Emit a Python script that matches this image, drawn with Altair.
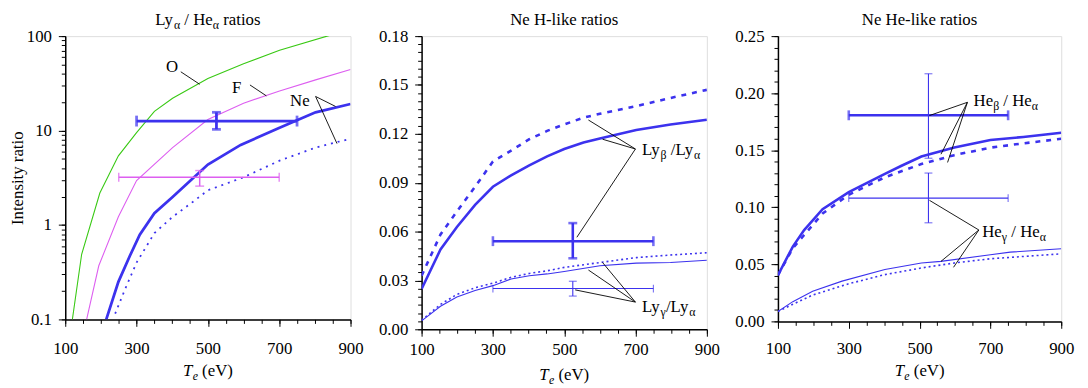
import altair as alt
import pandas as pd

FONT = "Liberation Serif"
FS = 17
SUB = 12
BLUE = "#3c32ee"
MAG = "#dd5ff0"
GREEN = "#39c914"

# ---------------- data: panel 1 (Ly_alpha / He_alpha) ----------------
T_O = [120, 146, 197, 249, 300, 350, 401, 500, 600, 701, 834, 900]
V_O = [0.1, 0.49, 2.18, 5.4, 9.5, 16, 22, 35.6, 51, 71, 100, 115]
T_F = [160, 194, 249, 300, 401, 500, 600, 701, 802, 900]
V_F = [0.1, 0.37, 1.22, 2.96, 6.6, 13.1, 19.5, 26.3, 34.4, 44.4]
T_NE = [215, 249, 281, 309, 350, 401, 452, 500, 592, 701, 802, 900]
V_NE = [0.1, 0.25, 0.47, 0.79, 1.33, 1.98, 2.97, 4.36, 7.05, 10.7, 15.6, 19.1]
T_NE_DOT = [240, 268, 300, 350, 401, 452, 500, 600, 701, 802, 900]
V_NE_DOT = [0.115, 0.21, 0.4, 0.82, 1.22, 1.69, 2.33, 3.2, 4.8, 6.6, 8.2]
# error bars: xc, xlo, xhi, yc, ylo, yhi
EB_NE = [524, 300, 750, 12.6, 10.3, 15.6]
EB_F = [477, 250, 700, 3.2, 2.58, 3.77]

# ---------------- data: panel 2 (Ne H-like) ----------------
T_LYB = [100, 153, 199, 250, 300, 351, 402, 452, 500, 554, 600, 702, 798, 900]
V_LYB = [0.0248, 0.049, 0.0628, 0.0764, 0.0875, 0.0945, 0.1006, 0.1062, 0.1107,
         0.1147, 0.1172, 0.1224, 0.1258, 0.1287]
V_LYB_DASH = [0.0329, 0.0582, 0.0723, 0.0875, 0.103, 0.1097, 0.1167, 0.1218, 0.1258,
              0.1299, 0.1323, 0.137, 0.142, 0.147]
T_LYG = [100, 153, 199, 250, 300, 351, 402, 452, 500, 600, 702, 798, 900]
V_LYG = [0.0052, 0.0141, 0.0198, 0.0238, 0.0268, 0.0309, 0.0329, 0.034, 0.0355,
         0.039, 0.0406, 0.041, 0.0424]
V_LYG_DOT = [0.0056, 0.0153, 0.0214, 0.0255, 0.0283, 0.0319, 0.0343, 0.0359, 0.038,
             0.041, 0.044, 0.0456, 0.047]
EB_LYB = [524, 300, 750, 0.0541, 0.0436, 0.0652]
EB_LYG = [524, 300, 750, 0.025, 0.0204, 0.0295]

# ---------------- data: panel 3 (Ne He-like) ----------------
T_HEB = [100, 142, 174, 226, 300, 402, 449, 505, 598, 700, 793, 900]
V_HEB = [0.0405, 0.0656, 0.080, 0.0983, 0.1133, 0.1292, 0.1364, 0.1445, 0.1523,
         0.159, 0.1616, 0.1653]
T_HEB_DASH = [100, 142, 174, 226, 300, 402, 505, 598, 700, 793, 900]
V_HEB_DASH = [0.0405, 0.0642, 0.0757, 0.0945, 0.111, 0.1263, 0.1379, 0.1457,
              0.1523, 0.156, 0.160]
T_HEG = [100, 142, 198, 281, 402, 505, 560, 700, 756, 900]
V_HEG = [0.0087, 0.0173, 0.0265, 0.0353, 0.0455, 0.0512, 0.0526, 0.0584, 0.0607, 0.0636]
T_HEG_DOT = [100, 142, 198, 300, 402, 505, 598, 700, 900]
V_HEG_DOT = [0.0087, 0.015, 0.0231, 0.033, 0.041, 0.0468, 0.0512, 0.0549, 0.0592]
EB_HEB = [525, 300, 750, 0.1806, 0.143, 0.217]
EB_HEG = [525, 300, 750, 0.108, 0.0864, 0.130]

# tick values
X_MINOR_T = list(range(100, 901, 50))
X_MAJOR_T = [100, 300, 500, 700, 900]
Y1_MAJOR_T = [0.1, 1, 10, 100]
Y1_MINOR_T = [round(d * k, 3) for d in [0.1, 1, 10] for k in range(1, 10)] + [100]
Y2_MAJOR_T = [0, 0.03, 0.06, 0.09, 0.12, 0.15, 0.18]
Y2_MINOR_T = [round(i * 0.005, 3) for i in range(37)]
Y3_MAJOR_T = [0, 0.05, 0.10, 0.15, 0.20, 0.25]
Y3_MINOR_T = [round(i * 0.01, 2) for i in range(26)]

# ---------------- helpers ----------------
ONE = pd.DataFrame({"k": [0]})
WID = {"L": 0.611, "y": 0.5, "H": 0.722, "e": 0.444, " ": 0.25, "/": 0.278,
       "r": 0.333, "a": 0.444, "t": 0.278, "i": 0.278, "o": 0.5, "s": 0.389,
       "(": 0.333, ")": 0.333, "V": 0.722, "T": 0.58, "N": 0.722, "-": 0.333,
       "l": 0.278, "k": 0.5, "α": 0.53, "β": 0.5, "γ": 0.45, "O": 0.722, "F": 0.556}


def twidth(s, size):
    return sum(WID.get(c, 0.5) for c in s) * size


def rich(segs, x_enc, y_enc, align="left", base_dy=0, size=FS):
    widths = [twidth(t, SUB if sub else size) for t, sub, it in segs]
    off = -sum(widths) / 2 if align == "center" else 0
    layers = []
    for (t, sub, it), w in zip(segs, widths):
        fsz = SUB if sub else size
        lead = len(t) - len(t.lstrip(" "))
        core = t.strip(" ")
        kw = dict(text=core, font=FONT, fontSize=fsz, align="left",
                  baseline="alphabetic", dx=off + lead * 0.25 * fsz,
                  dy=base_dy + (4 if sub else 0), color="black")
        if it:
            kw["fontStyle"] = "italic"
        layers.append(alt.Chart(ONE).mark_text(**kw).encode(x=x_enc, y=y_enc))
        off += w
    return layers


XS = alt.Scale(domain=[100, 900], nice=False, zero=False)

AX = dict(labelFont=FONT, labelFontSize=FS, labelColor="black",
          domainColor="black", domainWidth=1.5, tickColor="black",
          tickWidth=1, grid=False, labelOverlap=False, labelFlush=False)

X_MINOR = alt.Axis(values=X_MINOR_T, labels=False, tickSize=4, title=None,
                   orient="bottom", domain=True, **AX)


def x_major(pad):
    return alt.Axis(values=X_MAJOR_T, tickSize=7, labelPadding=pad, title=None,
                    orient="bottom", domain=False, **AX)


def line(T, V, color, width, ys, dash=None, xaxis=None, yaxis=None, opacity=1):
    df = pd.DataFrame({"T": T, "v": V})
    kw = dict(color=color, strokeWidth=width, clip=True, opacity=opacity)
    if dash:
        kw["strokeDash"] = dash
    return alt.Chart(df).mark_line(**kw).encode(
        x=alt.X("T:Q", scale=XS, axis=xaxis),
        y=alt.Y("v:Q", scale=ys, axis=yaxis))


def errbar(eb, color, ys, wh, wv, caph, capv):
    xc, xlo, xhi, yc, ylo, yhi = eb
    h = pd.DataFrame({"x": [xlo], "x2": [xhi], "y": [yc]})
    v = pd.DataFrame({"x": [xc], "y": [ylo], "y2": [yhi]})
    ends = pd.DataFrame({"x": [xlo, xhi], "y": [yc, yc]})
    tops = pd.DataFrame({"x": [xc, xc], "y": [ylo, yhi]})
    X = alt.X("x:Q", scale=XS, axis=None)
    Y = alt.Y("y:Q", scale=ys, axis=None)
    return [
        alt.Chart(h).mark_rule(color=color, strokeWidth=wh).encode(x=X, x2="x2:Q", y=Y),
        alt.Chart(v).mark_rule(color=color, strokeWidth=wv).encode(x=X, y=Y, y2="y2:Q"),
        alt.Chart(ends).mark_tick(color=color, orient="vertical", size=caph, thickness=wh).encode(x=X, y=Y),
        alt.Chart(tops).mark_tick(color=color, orient="horizontal", size=capv, thickness=wv).encode(x=X, y=Y),
    ]


def leaders(segs, ys):
    df = pd.DataFrame(segs, columns=["x", "y", "x2", "y2"])
    return alt.Chart(df).mark_rule(color="black", strokeWidth=0.9).encode(
        x=alt.X("x:Q", scale=XS, axis=None), y=alt.Y("y:Q", scale=ys, axis=None),
        x2="x2:Q", y2="y2:Q")


def dlabel(segs, T, v, ys, align="left"):
    return rich(segs, alt.XDatum(T, type="quantitative", scale=XS, axis=None),
                alt.YDatum(v, type="quantitative", scale=ys, axis=None),
                align=align, base_dy=6)


def xtitle(w, base):
    return rich([("T", False, True), ("e", True, True), (" (eV)", False, False)],
                alt.value(w / 2), alt.value(base), align="center")


def ptitle(segs, w):
    return rich(segs, alt.value(w / 2), alt.value(-11), align="center")


def yaxes(minor_vals, major_vals, fmt, title=None):
    minor = alt.Axis(values=minor_vals, labels=False, tickSize=4, title=None,
                     orient="left", domain=True, **AX)
    kw = dict(values=major_vals, format=fmt, tickSize=7, labelPadding=7,
              orient="left", domain=False, **AX)
    if title:
        major = alt.Axis(title=title, titleFont=FONT, titleFontSize=FS,
                         titleFontWeight="normal", titleColor="black",
                         titlePadding=0, **kw)
    else:
        major = alt.Axis(title=None, **kw)
    return minor, major


def panel(layers, w, h):
    return alt.layer(*layers).properties(width=w, height=h).resolve_axis(
        x="independent", y="independent")


# ---------------- panel 1 ----------------
W1, H1 = 289, 287
YS1 = alt.Scale(type="log", domain=[0.1, 100], nice=False)
Y1_MIN, Y1_MAJ = yaxes(Y1_MINOR_T, Y1_MAJOR_T, "~g", "Intensity ratio")

p1_layers = [
    line(T_O, V_O, GREEN, 1.1, YS1, xaxis=X_MINOR, yaxis=Y1_MIN),
    line(T_O, V_O, GREEN, 1.1, YS1, xaxis=x_major(15), yaxis=Y1_MAJ, opacity=0),
    line(T_F, V_F, MAG, 1.1, YS1),
    line(T_NE_DOT, V_NE_DOT, BLUE, 1.8, YS1, dash=[2, 5]),
    line(T_NE, V_NE, BLUE, 2.8, YS1),
]
p1_layers += errbar(EB_F, MAG, YS1, 1.5, 1.5, 9, 9)
p1_layers += errbar(EB_NE, BLUE, YS1, 2.8, 2.8, 11, 9)
p1_layers.append(leaders([(424, 41.9, 477, 30.9), (618, 30.4, 664, 23.3),
                          (802, 22.96, 858, 18.0), (802, 22.96, 862, 7.28)], YS1))
p1_layers += dlabel([("O", False, False)], 399.5, 48.4, YS1, "center")
p1_layers += dlabel([("F", False, False)], 581, 29.2, YS1, "center")
p1_layers += dlabel([("Ne", False, False)], 758, 21.2, YS1, "center")
p1_layers += ptitle([("Ly", False, False), ("α", True, False), (" / He", False, False),
                     ("α", True, False), (" ratios", False, False)], W1)
p1_layers += xtitle(W1, H1 + 57)
p1 = panel(p1_layers, W1, H1)

# ---------------- panel 2 ----------------
W2, H2 = 289, 297
YS2 = alt.Scale(domain=[0, 0.18], nice=False, zero=False)
Y2_MIN, Y2_MAJ = yaxes(Y2_MINOR_T, Y2_MAJOR_T, ".2f")
p2_layers = [
    line(T_LYB, V_LYB, BLUE, 2.6, YS2, xaxis=X_MINOR, yaxis=Y2_MIN),
    line(T_LYB, V_LYB, BLUE, 2.6, YS2, xaxis=x_major(6), yaxis=Y2_MAJ, opacity=0),
    line(T_LYB, V_LYB_DASH, BLUE, 2.6, YS2, dash=[5, 6]),
    line(T_LYG, V_LYG, BLUE, 1.1, YS2),
    line(T_LYG, V_LYG_DOT, BLUE, 1.6, YS2, dash=[2, 3]),
]
p2_layers += errbar(EB_LYB, BLUE, YS2, 2.6, 2.6, 10, 9)
p2_layers += errbar(EB_LYG, BLUE, YS2, 1.1, 1.1, 8, 8)
p2_layers.append(leaders([(699.6, 0.1107, 567.8, 0.1285), (699.6, 0.1107, 607.4, 0.1167),
                          (699.6, 0.1107, 535.4, 0.0565),
                          (699.6, 0.0167, 567.8, 0.0364), (699.6, 0.0167, 607.4, 0.041),
                          (699.6, 0.0167, 530.7, 0.0242)], YS2))
p2_layers += dlabel([("Ly", False, False), ("β", True, False), (" /Ly", False, False),
                     ("α", True, False)], 718, 0.1105, YS2)
p2_layers += dlabel([("Ly", False, False), ("γ", True, False), ("/Ly", False, False),
                     ("α", True, False)], 718, 0.0141, YS2)
p2_layers += ptitle([("Ne H-like ratios", False, False)], W2)
p2_layers += xtitle(W2, H2 + 51)
p2 = panel(p2_layers, W2, H2)

# ---------------- panel 3 ----------------
W3, H3 = 287, 289
YS3 = alt.Scale(domain=[0, 0.25], nice=False, zero=False)
Y3_MIN, Y3_MAJ = yaxes(Y3_MINOR_T, Y3_MAJOR_T, ".2f")
p3_layers = [
    line(T_HEB, V_HEB, BLUE, 2.6, YS3, xaxis=X_MINOR, yaxis=Y3_MIN),
    line(T_HEB, V_HEB, BLUE, 2.6, YS3, xaxis=x_major(13), yaxis=Y3_MAJ, opacity=0),
    line(T_HEB_DASH, V_HEB_DASH, BLUE, 2.6, YS3, dash=[5, 6]),
    line(T_HEG, V_HEG, BLUE, 1.1, YS3),
    line(T_HEG_DOT, V_HEG_DOT, BLUE, 1.6, YS3, dash=[2, 3]),
]
p3_layers += errbar(EB_HEB, BLUE, YS3, 2.6, 1.1, 10, 8)
p3_layers += errbar(EB_HEG, BLUE, YS3, 1.1, 1.1, 8, 8)
p3_layers.append(leaders([(635, 0.192, 527.8, 0.1804), (635, 0.192, 560.4, 0.1465),
                          (635, 0.192, 579, 0.1393),
                          (667.3, 0.0801, 527.8, 0.1061), (667.3, 0.0801, 560.4, 0.0526),
                          (667.3, 0.0801, 595.8, 0.0474)], YS3))
p3_layers += dlabel([("He", False, False), ("β", True, False), (" / He", False, False),
                     ("α", True, False)], 652.5, 0.194, YS3)
p3_layers += dlabel([("He", False, False), ("γ", True, False), (" / He", False, False),
                     ("α", True, False)], 676.8, 0.0793, YS3)
p3_layers += ptitle([("Ne He-like ratios", False, False)], W3)
p3_layers += xtitle(W3, H3 + 55)
p3 = panel(p3_layers, W3, H3)

chart = alt.hconcat(p1, p2, p3, spacing=72, bounds="flush").properties(
    padding={"left": 0, "top": 0, "right": 5, "bottom": 0}
).configure_view(stroke="#333333", strokeWidth=1.2).configure(background="white")

chart.save("out.html", embed_options={"renderer": "svg", "actions": False})
